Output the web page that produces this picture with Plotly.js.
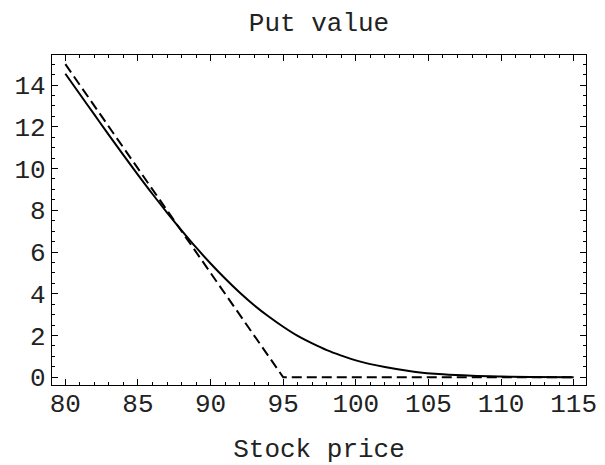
<!DOCTYPE html>
<html>
<head>
<meta charset="utf-8">
<script src="https://cdn.plot.ly/plotly-3.0.1.min.js"></script>
<style>html,body{margin:0;padding:0;background:#fff;}#chart{width:605px;height:465px;}</style>
</head>
<body>
<div id="chart"></div>
<script>
// Stock prices and put values
const stockPrice = [80, 81, 82, 83, 84, 85, 86, 87, 88, 89, 90, 91, 92, 93, 94, 95, 96, 97, 98, 99, 100, 102, 104, 106, 108, 110, 112, 115];
const putValue   = [14.54, 13.56, 12.58, 11.6, 10.64, 9.7, 8.78, 7.89, 7.04, 6.22, 5.45, 4.73, 4.06, 3.45, 2.91, 2.42, 1.98, 1.62, 1.30, 1.04, 0.81, 0.49, 0.27, 0.14, 0.07, 0.035, 0.015, 0.004];
// Payoff at expiry (dashed)
const payoffPrice = [80, 95, 115];
const payoffValue = [15, 0, 0];
const xTicks = [80, 85, 90, 95, 100, 105, 110, 115];
const yTicks = [0, 2, 4, 6, 8, 10, 12, 14];

const FONT = 'Liberation Mono, Courier New, monospace';

const traces = [
  {x: stockPrice, y: putValue, type: 'scatter', mode: 'lines',
   line: {color: '#000', width: 2, shape: 'spline'}, hoverinfo: 'skip'},
  {x: payoffPrice, y: payoffValue, type: 'scatter', mode: 'lines',
   line: {color: '#000', width: 2, dash: '10px,5px'}, hoverinfo: 'skip'}
];

const axisCommon = {
  showgrid: false, zeroline: false, showline: true, linecolor: '#000', linewidth: 1.2,
  mirror: 'allticks', ticks: 'inside', ticklen: 6, tickwidth: 1, tickcolor: '#000',
  tickfont: {family: FONT, size: 26, color: '#222'}
};

const layout = {
  width: 605, height: 465,
  margin: {l: 52, r: 19, t: 55, b: 80},
  paper_bgcolor: '#fff', plot_bgcolor: '#fff',
  showlegend: false,
  font: {family: FONT, color: '#222'},
  title: {text: 'Put value', font: {family: FONT, size: 26, color: '#222'},
          xref: 'paper', x: 0.5, xanchor: 'center', yref: 'container', y: 0.953, yanchor: 'middle'},
  xaxis: Object.assign({}, axisCommon, {
    range: [79.08, 115.85], tickmode: 'array', tickvals: xTicks, ticktext: xTicks.map(String),
    ticklabelstandoff: -5,
    minor: {dtick: 1, tick0: 80, ticks: 'inside', ticklen: 3, tickcolor: '#000', tickwidth: 1},
    title: {text: 'Stock price', font: {family: FONT, size: 26, color: '#222'}, standoff: 24}
  }),
  yaxis: Object.assign({}, axisCommon, {
    range: [-0.37, 15.44], tickmode: 'array', tickvals: yTicks, ticktext: yTicks.map(String),
    minor: {dtick: 0.5, tick0: 0, ticks: 'inside', ticklen: 3, tickcolor: '#000', tickwidth: 1}
  })
};

Plotly.newPlot('chart', traces, layout, {displayModeBar: false, staticPlot: true});
</script>
</body>
</html>
